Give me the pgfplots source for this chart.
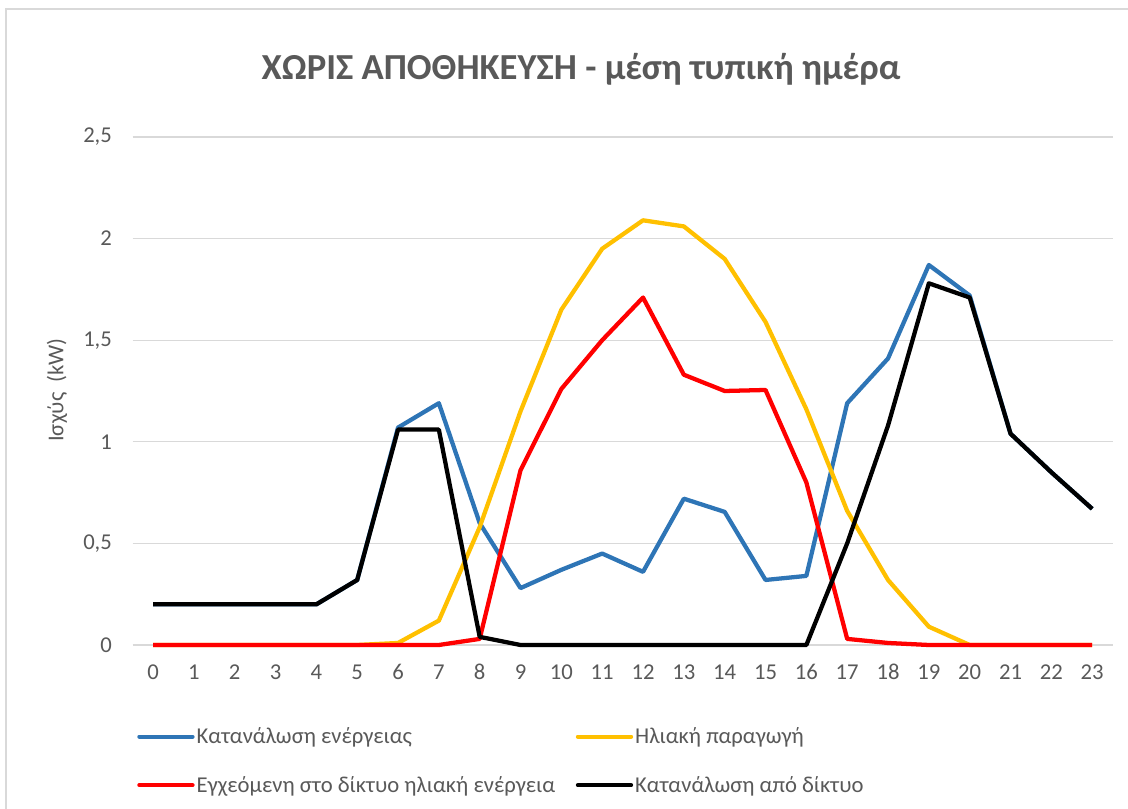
\documentclass[border=0pt]{standalone}
\usepackage{pgfplots}
\pgfplotsset{compat=1.18}
\usepackage{pgfplotstable}
\usepackage{fontspec}
\setmainfont{Carlito}
\definecolor{cblue}{HTML}{2E75B6}
\definecolor{cyellow}{HTML}{FFC000}
\definecolor{cred}{HTML}{FF0000}
\definecolor{txtgray}{HTML}{595959}
\definecolor{gridgray}{HTML}{D9D9D9}
\pgfplotstableread{
hour blue yellow red black
0 0.20 0 0 0.20
1 0.20 0 0 0.20
2 0.20 0 0 0.20
3 0.20 0 0 0.20
4 0.20 0 0 0.20
5 0.32 0 0 0.32
6 1.07 0.01 0 1.06
7 1.19 0.12 0 1.06
8 0.60 0.58 0.03 0.04
9 0.28 1.15 0.86 0
10 0.37 1.65 1.26 0
11 0.45 1.95 1.50 0
12 0.36 2.09 1.71 0
13 0.72 2.06 1.33 0
14 0.655 1.90 1.25 0
15 0.32 1.59 1.255 0
16 0.34 1.16 0.80 0
17 1.19 0.66 0.03 0.50
18 1.41 0.32 0.01 1.08
19 1.87 0.09 0 1.78
20 1.72 0 0 1.71
21 1.04 0 0 1.04
22 0.85 0 0 0.85
23 0.67 0 0 0.67
}\datatable
\begin{document}
\begin{tikzpicture}
\path[use as bounding box] (0,0) rectangle (846pt,606.75pt);
\draw[gridgray, line width=1.2pt] (4.5pt,0) -- (4.5pt,600pt) -- (846pt,600pt);
\begin{axis}[
  scale only axis, width=735pt, height=381pt,
  at={(99.45pt,123pt)}, anchor=south west,
  xmin=-0.5, xmax=23.5, ymin=0, ymax=2.5,
  xtick={0,...,23}, ytick={0,0.5,1,1.5,2,2.5},
  clip=false,
  axis line style={draw=none},
  ymajorgrids, grid style={gridgray, line width=1pt},
  major tick length=0pt,
  /pgf/number format/use comma,
  /pgf/number format/assume math mode=true,
  ticklabel style={font=\fontsize{17pt}{20pt}\selectfont, text=txtgray},
  yticklabel style={xshift=-12pt},
  xticklabel style={anchor=north, text height=11pt, text depth=0pt, yshift=-11pt},
  ylabel={Ισχύς\ \ (kW)},
  ylabel style={font=\fontsize{17pt}{20pt}\selectfont, text=txtgray, at={(axis description cs:-0.0771,0.502)}, anchor=center},
  title={ΧΩΡΙΣ ΑΠΟΘΗΚΕΥΣΗ - μέση τυπική ημέρα},
  title style={font=\bfseries\fontsize{27.5pt}{32pt}\selectfont, text=txtgray, at={(axis description cs:0.4576,1.117)}, anchor=center},
  legend columns=2,
  legend cell align=left,
  legend style={draw=none, fill=none, at={(axis description cs:0.0045,-0.158)}, anchor=north west,
    font=\fontsize{17pt}{20pt}\selectfont, text=txtgray,
    row sep=20pt, inner sep=0pt,
    /tikz/every even column/.append style={column sep=14pt},
    nodes={inner sep=1.5pt}},
  legend image code/.code={\draw[#1, line width=3pt, line cap=round] (0pt,0pt) -- (40pt,0pt);},
  every axis plot/.append style={line width=3.2pt, line join=round},
]
\addplot[cblue] table[x=hour, y=blue] {\datatable};
\addlegendentry{Κατανάλωση ενέργειας}
\addplot[cyellow] table[x=hour, y=yellow] {\datatable};
\addlegendentry{Ηλιακή παραγωγή}
\addplot[cred] table[x=hour, y=red] {\datatable};
\addlegendentry{Εγχεόμενη στο δίκτυο ηλιακή ενέργεια}
\addplot[black] table[x=hour, y=black] {\datatable};
\addlegendentry{Κατανάλωση από δίκτυο}
\end{axis}
\end{tikzpicture}
\end{document}
